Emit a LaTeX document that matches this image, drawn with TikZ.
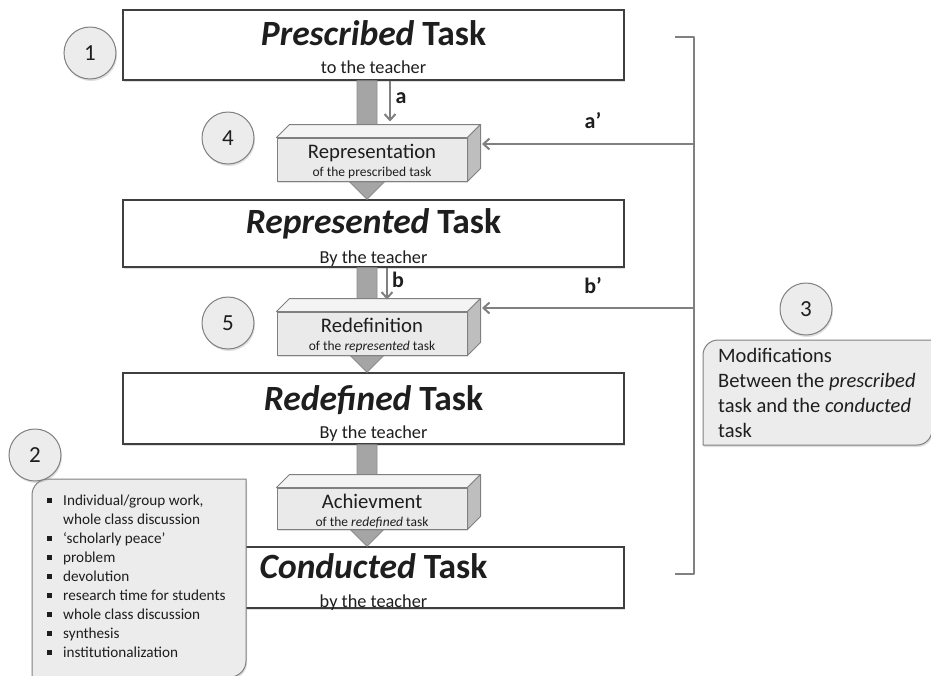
\documentclass[tikz,border=0pt]{standalone}
\usepackage{fontspec}
\setmainfont{Carlito}
\usetikzlibrary{shadows,arrows.meta,calc}
\definecolor{boxline}{HTML}{3F3F3F}
\definecolor{barfill}{HTML}{A5A5A5}
\definecolor{barline}{HTML}{8C8C8C}
\definecolor{facefront}{HTML}{EAEAEA}
\definecolor{facetop}{HTML}{F4F4F4}
\definecolor{faceside}{HTML}{BEBEBE}
\definecolor{lineg}{HTML}{808080}
\definecolor{calloutfill}{HTML}{ECECEC}
\definecolor{txt}{HTML}{1E1E1E}
\newcommand\sqbul{\raisebox{2.5pt}{\rule{5pt}{5pt}}}
\newcommand\blockarr[2]{%
  \draw[blockarrow] ($(#1.south)+(-16.5,0)$) -- ($(#1.south)+(3.5,0)$)
    -- ($(#2.north)+(3.5,-26)$) -- ($(#2.north)+(19.5,-26)$)
    -- ($(#2.north)+(-6.5,0)$) -- ($(#2.north)+(-32.5,-26)$)
    -- ($(#2.north)+(-16.5,-26)$) -- cycle;}
\newcommand\boxfaces[1]{%
  \draw[topface] (#1.north west) -- ++(13,-13) -- ($(#1.north east)+(13,-13)$) -- (#1.north east) -- cycle;
  \draw[sideface] (#1.north east) -- ++(13,-13) -- ($(#1.south east)+(13,-13)$) -- (#1.south east) -- cycle;}
\begin{document}
\begin{tikzpicture}[x=1pt,y=-1pt,
  taskbox/.style={draw=boxline,fill=white,line width=1.4pt,minimum width=501pt,inner sep=0pt,
    drop shadow={shadow xshift=1pt,shadow yshift=-2pt,opacity=0.25}},
  tasktitle/.style={anchor=base,inner sep=0pt,text=txt,font=\fontsize{35.5}{35.5}\selectfont\bfseries},
  tasksub/.style={anchor=base,inner sep=0pt,text=txt,font=\fontsize{18.3}{18.3}\selectfont},
  blockarrow/.style={fill=barfill,draw=barline,line width=0.8pt},
  front/.style={draw=lineg,fill=facefront,line width=1pt,minimum width=190pt,inner sep=0pt,
    drop shadow={shadow xshift=1pt,shadow yshift=-2pt,opacity=0.25}},
  topface/.style={draw=lineg,fill=facetop,line width=1pt,line join=round},
  sideface/.style={draw=lineg,fill=faceside,line width=1pt,line join=round},
  facetitle/.style={anchor=base,inner sep=0pt,text=txt,font=\fontsize{20.7}{20.7}\selectfont},
  facesub/.style={anchor=base,inner sep=0pt,text=txt,font=\fontsize{13.5}{13.5}\selectfont},
  thinarrow/.style={draw=lineg,line width=2pt,-{Straight Barb[length=6pt,width=11pt,line width=2pt]}},
  arrlabel/.style={anchor=base,inner sep=0pt,text=txt,font=\fontsize{22}{22}\selectfont\bfseries},
  numcirc/.style={circle,draw=lineg,fill=calloutfill,line width=1pt,minimum size=52pt,inner sep=0pt,
    text=txt,font=\fontsize{23}{23}\selectfont,
    drop shadow={shadow xshift=1pt,shadow yshift=-2pt,opacity=0.25}},
  callout/.style={draw=lineg,fill=calloutfill,line width=1pt,
    drop shadow={shadow xshift=1pt,shadow yshift=-2pt,opacity=0.25}}]
\useasboundingbox (0,0) rectangle (931,675);

% task boxes
\node[taskbox,minimum height=70pt] (t1) at (373.5,45) {};
\node[taskbox,minimum height=67pt] (t2) at (373.5,233.5) {};
\node[taskbox,minimum height=71pt] (t3) at (373.5,408.5) {};
\node[taskbox,minimum height=61pt] (t4) at (373.5,577.5) {};

\node[tasktitle] (t1a) at (373.5,45) {\textit{Prescribed} Task};
\node[tasksub] (t1b) at (373.5,73) {to the teacher};
\node[tasktitle] (t2a) at (373.5,233) {\textit{Represented} Task};
\node[tasksub] (t2b) at (373.5,263) {By the teacher};
\node[tasktitle] (t3a) at (373.5,410) {\textit{Redefined} Task};
\node[tasksub] (t3b) at (373.5,438) {By the teacher};
\node[tasktitle] (t4a) at (373.5,578) {\textit{Conducted} Task};
\node[tasksub] (t4b) at (373.5,607) {by the teacher};

% block arrows
\blockarr{t1}{t2}
\blockarr{t2}{t3}
\blockarr{t3}{t4}

% 3D boxes
\node[front,minimum height=43pt] (rep) at (372,159.5) {};
\boxfaces{rep}
\node[facetitle] (repa) at (372,158) {Representation};
\node[facesub] (repb) at (372,176) {of the prescribed task};

\node[front,minimum height=43pt] (red) at (372,333.5) {};
\boxfaces{red}
\node[facetitle] (reda) at (372,332) {Redefinition};
\node[facesub] (redb) at (372,350) {of the \textit{represented} task};

\node[front,minimum height=41pt] (ach) at (372,508.5) {};
\boxfaces{ach}
\node[facetitle] (acha) at (372,508) {Achievment};
\node[facesub] (achb) at (372,526) {of the \textit{redefined} task};

% small arrows a, b
\coordinate (repTop) at ($(rep.north)+(18,-16)$);
\coordinate (redTop) at ($(red.north)+(15,-12)$);
\draw[thinarrow] (t1.south -| repTop) -- (repTop);
\draw[thinarrow] (t2.south -| redTop) -- (redTop);
\node[arrlabel] (la) at (401,103) {a};
\node[arrlabel] (lb) at (398,287) {b};

% bracket
\coordinate (brT) at (694,37);
\coordinate (brB) at (694,574);
\draw[lineg,line width=2.5pt,line join=round] ($(brT)+(-19,0)$) -- (brT) -- (brB) -- ($(brB)+(-19,0)$);
\coordinate (repR) at (482,144);
\coordinate (redR) at (482,308);
\draw[thinarrow] (brT |- repR) -- (repR);
\draw[thinarrow] (brT |- redR) -- (redR);
\node[arrlabel] (lap) at (593,128) {a’};
\node[arrlabel] (lbp) at (593,293) {b’};

% callouts
\draw[callout] (32,677) -- (32,495) arc[start angle=180,end angle=270,radius=16] -- (246,479)
  -- (246,661) arc[start angle=0,end angle=90,radius=16] -- cycle;
\node[anchor=base west,inner sep=0pt,text=txt,font=\fontsize{15.2}{19}\selectfont] (list) at (47,505)
 {\begin{tabular}[t]{@{}l@{\hspace{11pt}}l@{}}
  \sqbul & Individual/group work,\\
         & whole class discussion\\
  \sqbul & ‘scholarly peace’\\
  \sqbul & problem\\
  \sqbul & devolution\\
  \sqbul & research time for students\\
  \sqbul & whole class discussion\\
  \sqbul & synthesis\\
  \sqbul & institutionalization
 \end{tabular}};

\draw[callout] (703,445) -- (703,355) arc[start angle=180,end angle=270,radius=15] -- (932,340)
  -- (932,430) arc[start angle=0,end angle=90,radius=15] -- cycle;
\node[anchor=base west,inner sep=0pt,text=txt,font=\fontsize{20.5}{25}\selectfont] (mods) at (718,362)
 {\begin{tabular}[t]{@{}l@{}}
  Modifications\\
  Between the \textit{prescribed}\\
  task and the \textit{conducted}\\
  task
 \end{tabular}};

% number circles
\node[numcirc] (c1) at (90,53) {1};
\node[numcirc] (c4) at (228,138) {4};
\node[numcirc] (c5) at (228,323) {5};
\node[numcirc] (c3) at (806,309) {3};
\node[numcirc] (c2) at (35,455) {2};
\end{tikzpicture}
\end{document}
